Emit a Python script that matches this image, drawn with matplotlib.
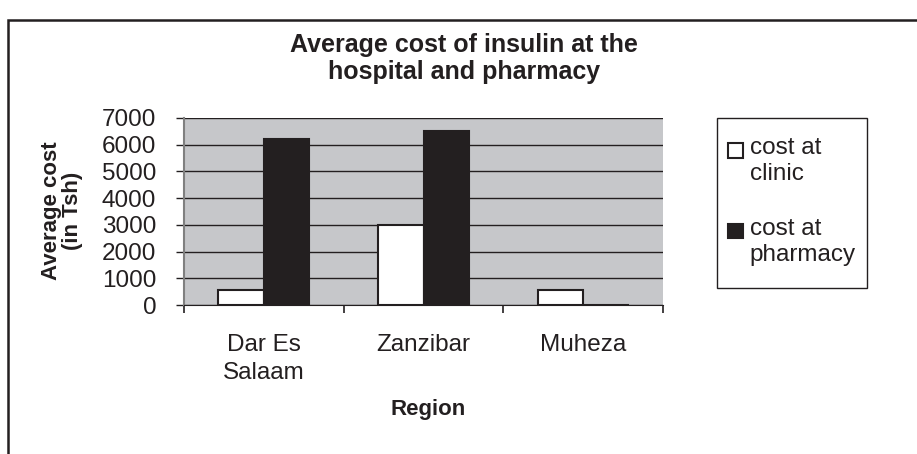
import matplotlib.pyplot as plt
from matplotlib.patches import Rectangle
from matplotlib.legend_handler import HandlerPatch
import numpy as np

regions = ['Dar Es\nSalaam', 'Zanzibar', 'Muheza']
clinic_cost = [550, 3000, 550]
pharmacy_cost = [6200, 6500, 0]
series_names = ['cost at\nclinic', 'cost at\npharmacy']

plt.rcParams['font.family'] = ['Liberation Sans', 'DejaVu Sans']
ink = '#231f20'

W, H = 917, 454
fig = plt.figure(figsize=(W / 100, H / 100), dpi=100)

# outer frame of the original picture
fig.patches.append(Rectangle((8 / W, -0.1), 1.2, 1.1 - 20 / H, transform=fig.transFigure,
                             fill=False, edgecolor=ink, linewidth=1.8))

ax = fig.add_axes([184 / W, 1 - 305 / H, 479 / W, 187 / H])
ax.set_facecolor('#c6c7ca')

x = np.arange(len(regions))
w = 1 / 3.5
b1 = ax.bar(x - w / 2, clinic_cost, w, color='white', edgecolor=ink,
            linewidth=1.5, label=series_names[0], zorder=3)
b2 = ax.bar(x + w / 2, pharmacy_cost, w, color=ink, edgecolor=ink,
            linewidth=1.5, label=series_names[1], zorder=3)

ax.set_xlim(-0.5, len(regions) - 0.5)
ax.set_ylim(0, 7000)
ax.set_yticks(range(0, 7001, 1000))
ax.yaxis.grid(True, color=ink, linewidth=1.0, zorder=1)
ax.tick_params(axis='y', labelsize=17.5, length=6, width=1, pad=14, colors=ink)

ax.set_xticks(np.arange(len(regions) + 1) - 0.5)
ax.set_xticklabels([])
ax.set_xticks(x, minor=True)
ax.set_xticklabels(regions, minor=True, linespacing=1.35)
ax.tick_params(axis='x', which='major', length=6, width=1.2, colors=ink)
ax.tick_params(axis='x', which='minor', length=0, labelsize=17.5, pad=21, colors=ink)

for side in ['top', 'right']:
    ax.spines[side].set_visible(False)
ax.spines['left'].set_color('#808080')
ax.spines['left'].set_linewidth(1.5)
ax.spines['bottom'].set_color(ink)

fig.text(464 / W, 1 - 58.5 / H, 'Average cost of insulin at the\nhospital and pharmacy',
         ha='center', va='center', fontsize=18, fontweight='bold', linespacing=1.2, color=ink)
fig.text(62 / W, 1 - 211 / H, 'Average cost\n(in Tsh)', ha='center', va='center',
         rotation=90, fontsize=16, fontweight='bold', linespacing=1.0, color=ink)
fig.text(428 / W, 1 - 409 / H, 'Region', ha='center', va='center',
         fontsize=16, fontweight='bold', color=ink)


def top_square(legend, orig_handle, xdescent, ydescent, width, height, fontsize):
    # square marker level with the first text line, as in the original
    return Rectangle((-xdescent, -ydescent + height - width), width, width)


# legend box frame
fig.patches.append(Rectangle((717 / W, 1 - 288 / H), 150 / W, 170 / H,
                             transform=fig.transFigure, fill=False,
                             edgecolor=ink, linewidth=1.0))

h1, h2 = b1.patches[0], b2.patches[0]
leg = fig.legend(handles=[h1, h2], labels=series_names, loc='upper left',
                 bbox_to_anchor=(728 / W, 1 - 137.5 / H), fontsize=17.5,
                 handlelength=0.6, handleheight=2.0, handletextpad=0.3,
                 labelspacing=1.37, borderpad=0, borderaxespad=0,
                 frameon=False,
                 handler_map={h1: HandlerPatch(patch_func=top_square),
                              h2: HandlerPatch(patch_func=top_square)})
for t in leg.get_texts():
    t.set_color(ink)

fig.savefig('out.png', dpi=100)
